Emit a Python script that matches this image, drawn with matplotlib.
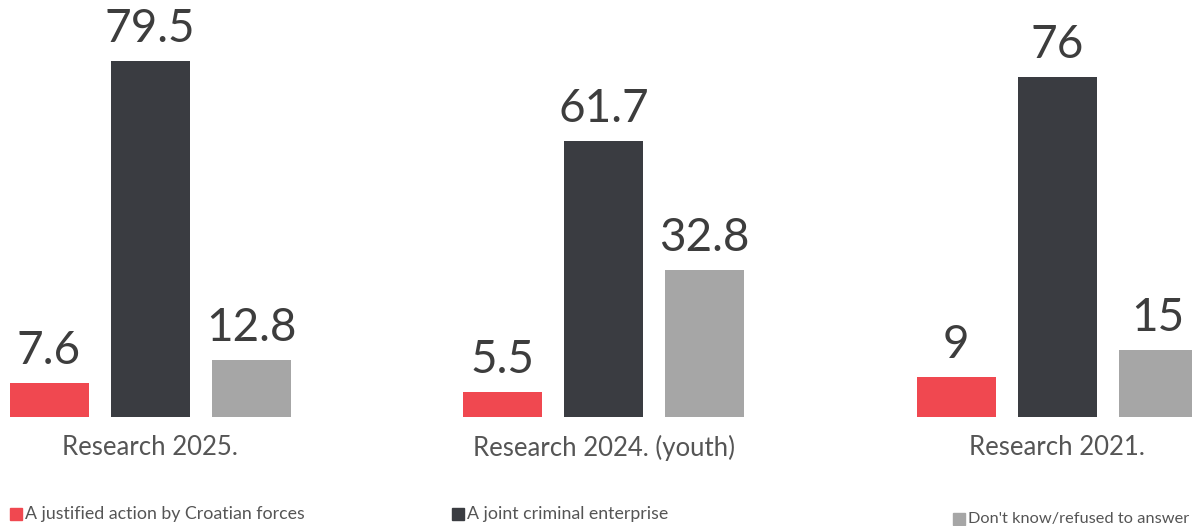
import numpy as np
import matplotlib.pyplot as plt

groups = ["Research 2025.", "Research 2024. (youth)", "Research 2021."]
series = ["A justified action by Croatian forces", "A joint criminal enterprise",
          "Don't know/refused to answer"]
justified = [7.6, 5.5, 9]
joint = [79.5, 61.7, 76]
dont_know = [12.8, 32.8, 15]
labels = [["7.6", "5.5", "9"], ["79.5", "61.7", "76"], ["12.8", "32.8", "15"]]

colors = ["#f04850", "#3a3c41", "#a6a6a6"]
txt = "#3d3d3d"
font = ["Lato", "DejaVu Sans"]

W, H = 1192, 526
fig = plt.figure(figsize=(W / 100, H / 100), dpi=100)
base = 417
ax = fig.add_axes([0, (H - base) / H, 1, base / H])
ax.axis("off")

unit = 453.5
ax.set_xlim(-150 / unit, (W - 150) / unit)
ax.set_ylim(0, base / 4.475)

x = np.arange(len(groups))
off = 101 / unit
bw = 79 / unit
for i, vals in enumerate([justified, joint, dont_know]):
    pos = x + (i - 1) * off
    ax.bar(pos, vals, width=bw, color=colors[i], clip_on=False)
    for p, v, lab in zip(pos, vals, labels[i]):
        ax.annotate(lab, (p, v), xytext=(0, 8), textcoords="offset points",
                    ha="center", va="bottom", fontsize=33, color=txt, family=font)

for g, name in zip(x, groups):
    ax.annotate(name, (g, 0), xytext=(0, -22), textcoords="offset points",
                ha="center", va="center", fontsize=18.5, color="#555555", family=font)

# legend entries at separate spots along the bottom
leg_pos = [(10, 514), (452, 514), (953, 519)]
leg_size = [12.8, 12.8, 11.8]
for (px, py), name, c, fs in zip(leg_pos, series, colors, leg_size):
    fig.patches.append(plt.Rectangle((px / W, 1 - (py + 6) / H), 12 / W, 12 / H,
                                     transform=fig.transFigure, color=c))
    fig.text((px + 15) / W, 1 - py / H, name, ha="left", va="center",
             fontsize=fs, color="#555555", family=font)

fig.savefig("out.png", dpi=100)
